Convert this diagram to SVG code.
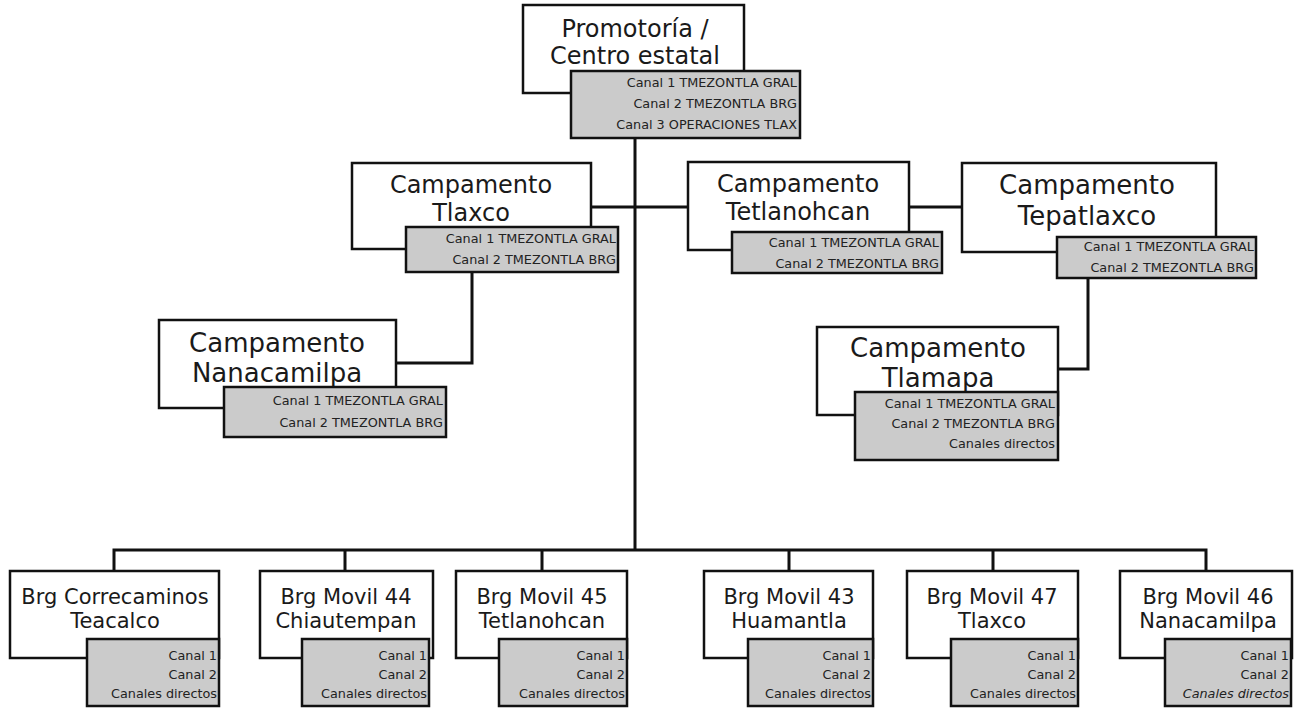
<svg xmlns="http://www.w3.org/2000/svg" width="1299" height="708" viewBox="0 0 1299 708">
<style>
.w{fill:#fff;stroke:#111;stroke-width:2.5}
.g{fill:#cbcbcb;stroke:#111;stroke-width:2.5}
.t{font-family:"DejaVu Sans",sans-serif;fill:#1a1a1a;text-anchor:middle}
.s{font-family:"DejaVu Sans",sans-serif;font-size:12.8px;fill:#222;text-anchor:end}
.c{fill:none;stroke:#111;stroke-width:3}
</style>
<rect width="1299" height="708" fill="#fff"/>
<g id="connectors">
<path class="c" d="M635 138V550"/>
<path class="c" d="M591 207H688"/>
<path class="c" d="M909 207H962"/>
<path class="c" d="M472 272V363H396"/>
<path class="c" d="M1088 278V369H1058"/>
<path class="c" d="M114 571V550H1206V571"/>
<path class="c" d="M345 550V571M542 550V571M789 550V571M993 550V571"/>
</g>
<g id="promotoria">
<rect class="w" x="523" y="5" width="221" height="88"/>
<text class="t" font-size="24" x="635" y="37">Promotoría /</text>
<text class="t" font-size="24" x="635" y="64">Centro estatal</text>
<rect class="g" x="571" y="71" width="229" height="67"/>
<text class="s" x="797" y="87">Canal 1 TMEZONTLA GRAL</text>
<text class="s" x="797" y="108">Canal 2 TMEZONTLA BRG</text>
<text class="s" x="797" y="129">Canal 3 OPERACIONES TLAX</text>
</g>
<g id="tlaxco">
<rect class="w" x="352" y="163" width="239" height="86"/>
<text class="t" font-size="24" x="471" y="193">Campamento</text>
<text class="t" font-size="24" x="471" y="221">Tlaxco</text>
<rect class="g" x="406" y="227" width="212" height="45"/>
<text class="s" x="616" y="243">Canal 1 TMEZONTLA GRAL</text>
<text class="s" x="616" y="264">Canal 2 TMEZONTLA BRG</text>
</g>
<g id="tetlanohcan">
<rect class="w" x="688" y="162" width="221" height="88"/>
<text class="t" font-size="24" x="798" y="192">Campamento</text>
<text class="t" font-size="24" x="798" y="220">Tetlanohcan</text>
<rect class="g" x="732" y="232" width="210" height="41"/>
<text class="s" x="939" y="247">Canal 1 TMEZONTLA GRAL</text>
<text class="s" x="939" y="268">Canal 2 TMEZONTLA BRG</text>
</g>
<g id="tepatlaxco">
<rect class="w" x="962" y="163" width="254" height="89"/>
<text class="t" font-size="26" x="1087" y="194">Campamento</text>
<text class="t" font-size="26" x="1087" y="225">Tepatlaxco</text>
<rect class="g" x="1057" y="237" width="199" height="41"/>
<text class="s" x="1254" y="251">Canal 1 TMEZONTLA GRAL</text>
<text class="s" x="1254" y="272">Canal 2 TMEZONTLA BRG</text>
</g>
<g id="nanacamilpa">
<rect class="w" x="159" y="320" width="237" height="88"/>
<text class="t" font-size="26" x="277" y="352">Campamento</text>
<text class="t" font-size="26" x="277" y="382">Nanacamilpa</text>
<rect class="g" x="224" y="387" width="222" height="50"/>
<text class="s" x="443" y="405">Canal 1 TMEZONTLA GRAL</text>
<text class="s" x="443" y="427">Canal 2 TMEZONTLA BRG</text>
</g>
<g id="tlamapa">
<rect class="w" x="817" y="327" width="241" height="88"/>
<text class="t" font-size="26" x="938" y="357">Campamento</text>
<text class="t" font-size="26" x="938" y="387">Tlamapa</text>
<rect class="g" x="855" y="392" width="203" height="68"/>
<text class="s" x="1055" y="408">Canal 1 TMEZONTLA GRAL</text>
<text class="s" x="1055" y="428">Canal 2 TMEZONTLA BRG</text>
<text class="s" x="1055" y="448">Canales directos</text>
</g>
<g id="brg-teacalco">
<rect class="w" x="10" y="571" width="209" height="87"/>
<text class="t" font-size="21" x="115" y="604">Brg Correcaminos</text>
<text class="t" font-size="21" x="115" y="628">Teacalco</text>
<rect class="g" x="87" y="639" width="132" height="67"/>
<text class="s" x="217" y="660">Canal 1</text>
<text class="s" x="217" y="679">Canal 2</text>
<text class="s" x="217" y="698">Canales directos</text>
</g>
<g id="brg-44">
<rect class="w" x="260" y="571" width="173" height="87"/>
<text class="t" font-size="21" x="346" y="604">Brg Movil 44</text>
<text class="t" font-size="21" x="346" y="628">Chiautempan</text>
<rect class="g" x="302" y="639" width="127" height="67"/>
<text class="s" x="427" y="660">Canal 1</text>
<text class="s" x="427" y="679">Canal 2</text>
<text class="s" x="427" y="698">Canales directos</text>
</g>
<g id="brg-45">
<rect class="w" x="456" y="571" width="171" height="87"/>
<text class="t" font-size="21" x="542" y="604">Brg Movil 45</text>
<text class="t" font-size="21" x="542" y="628">Tetlanohcan</text>
<rect class="g" x="499" y="639" width="128" height="67"/>
<text class="s" x="625" y="660">Canal 1</text>
<text class="s" x="625" y="679">Canal 2</text>
<text class="s" x="625" y="698">Canales directos</text>
</g>
<g id="brg-43">
<rect class="w" x="704" y="571" width="169" height="87"/>
<text class="t" font-size="21" x="789" y="604">Brg Movil 43</text>
<text class="t" font-size="21" x="789" y="628">Huamantla</text>
<rect class="g" x="748" y="639" width="125" height="67"/>
<text class="s" x="871" y="660">Canal 1</text>
<text class="s" x="871" y="679">Canal 2</text>
<text class="s" x="871" y="698">Canales directos</text>
</g>
<g id="brg-47">
<rect class="w" x="907" y="571" width="171" height="87"/>
<text class="t" font-size="21" x="992" y="604">Brg Movil 47</text>
<text class="t" font-size="21" x="992" y="628">Tlaxco</text>
<rect class="g" x="951" y="639" width="127" height="67"/>
<text class="s" x="1076" y="660">Canal 1</text>
<text class="s" x="1076" y="679">Canal 2</text>
<text class="s" x="1076" y="698">Canales directos</text>
</g>
<g id="brg-46">
<rect class="w" x="1120" y="571" width="172" height="87"/>
<text class="t" font-size="21" x="1208" y="604">Brg Movil 46</text>
<text class="t" font-size="21" x="1208" y="628">Nanacamilpa</text>
<rect class="g" x="1165" y="639" width="126" height="67"/>
<text class="s" x="1289" y="660">Canal 1</text>
<text class="s" x="1289" y="679">Canal 2</text>
<text class="s" x="1289" y="698" font-style="italic">Canales directos</text>
</g>
</svg>
